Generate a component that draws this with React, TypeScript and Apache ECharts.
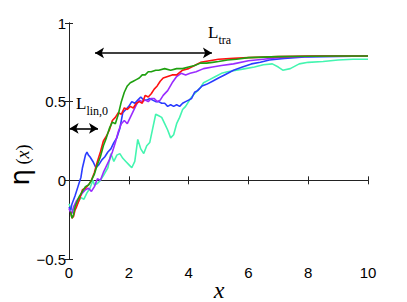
import React, { useEffect, useRef } from "react";
import * as echarts from "echarts";

// x ticks / y ticks
const xTicks = [0, 2, 4, 6, 8, 10];
const yTicks = [-0.5, 0, 0.5, 1];

// series: [x, eta(x)] pairs
const greenData: number[][] = [
  [0.05, -0.2], [0.1, -0.24], [0.15, -0.22], [0.2, -0.17], [0.3, -0.12], [0.35, -0.1], [0.45, -0.07],
  [0.55, -0.04], [0.65, -0.03], [0.75, 0.0], [0.85, 0.04], [0.95, 0.1], [1.05, 0.15], [1.15, 0.22],
  [1.25, 0.27], [1.35, 0.33], [1.45, 0.37], [1.55, 0.36], [1.65, 0.42], [1.75, 0.5], [1.85, 0.56],
  [1.95, 0.6], [2.05, 0.62], [2.15, 0.63], [2.25, 0.64], [2.35, 0.65], [2.45, 0.67], [2.55, 0.67],
  [2.65, 0.69], [2.75, 0.69], [2.9, 0.7], [3.0, 0.7], [3.2, 0.71], [3.4, 0.7], [3.6, 0.71], [3.8, 0.71],
  [4.0, 0.72], [4.2, 0.73], [4.4, 0.745], [4.6, 0.745], [4.8, 0.75], [5.0, 0.755], [5.3, 0.765],
  [5.6, 0.77], [6.0, 0.78], [6.5, 0.783], [7, 0.786], [8, 0.789], [9, 0.79], [10, 0.79],
];
const redData: number[][] = [
  [0.05, -0.2], [0.1, -0.24], [0.15, -0.23], [0.2, -0.19], [0.25, -0.17], [0.35, -0.12], [0.45, -0.06],
  [0.55, -0.05], [0.65, -0.03], [0.75, 0.0], [0.85, 0.05], [0.95, 0.12], [1.05, 0.18], [1.15, 0.25],
  [1.25, 0.28], [1.35, 0.32], [1.45, 0.38], [1.55, 0.4], [1.65, 0.43], [1.75, 0.42], [1.85, 0.46],
  [1.95, 0.45], [2.05, 0.47], [2.15, 0.46], [2.25, 0.49], [2.35, 0.5], [2.45, 0.49], [2.55, 0.54],
  [2.65, 0.53], [2.75, 0.55], [2.85, 0.58], [2.95, 0.6], [3.05, 0.63], [3.15, 0.65], [3.3, 0.66],
  [3.45, 0.67], [3.6, 0.67], [3.8, 0.7], [4.0, 0.71], [4.2, 0.73], [4.4, 0.75], [4.7, 0.76],
  [5.0, 0.77], [5.5, 0.775], [6.0, 0.78], [7, 0.786], [8, 0.79], [10, 0.79],
];
const purpleData: number[][] = [
  [0.0, -0.18], [0.05, -0.2], [0.1, -0.21], [0.15, -0.17], [0.25, -0.13], [0.35, -0.11], [0.45, -0.08],
  [0.55, -0.06], [0.65, -0.05], [0.75, -0.07], [0.85, -0.04], [0.95, 0.01], [1.05, 0.0], [1.15, 0.05],
  [1.25, 0.09], [1.35, 0.13], [1.45, 0.18], [1.55, 0.24], [1.65, 0.31], [1.75, 0.36], [1.85, 0.38],
  [1.95, 0.36], [2.05, 0.4], [2.15, 0.44], [2.25, 0.48], [2.35, 0.51], [2.45, 0.5], [2.55, 0.51],
  [2.65, 0.5], [2.75, 0.52], [2.85, 0.52], [2.95, 0.5], [3.05, 0.51], [3.15, 0.54], [3.3, 0.57],
  [3.45, 0.62], [3.6, 0.66], [3.75, 0.68], [3.9, 0.67], [4.05, 0.68], [4.25, 0.69], [4.5, 0.71],
  [4.8, 0.72], [5.1, 0.73], [5.5, 0.74], [6.0, 0.76], [6.5, 0.77], [7.0, 0.78], [7.5, 0.785],
  [8.5, 0.79], [10, 0.79],
];
const blueData: number[][] = [
  [0.0, -0.17], [0.05, -0.19], [0.1, -0.15], [0.2, -0.1], [0.3, -0.04], [0.4, 0.02], [0.45, 0.08],
  [0.5, 0.12], [0.55, 0.16], [0.6, 0.18], [0.65, 0.16], [0.7, 0.15], [0.8, 0.12], [0.9, 0.08], [1.0, 0.1],
  [1.1, 0.13], [1.2, 0.15], [1.3, 0.18], [1.4, 0.2], [1.5, 0.24], [1.6, 0.27], [1.7, 0.33],
  [1.8, 0.43], [1.9, 0.45], [2.0, 0.47], [2.1, 0.5], [2.2, 0.49], [2.3, 0.51], [2.4, 0.53],
  [2.5, 0.51], [2.6, 0.51], [2.7, 0.52], [2.8, 0.51], [2.9, 0.5], [3.0, 0.5], [3.1, 0.49],
  [3.2, 0.49], [3.3, 0.47], [3.4, 0.48], [3.5, 0.47], [3.6, 0.48], [3.7, 0.47], [3.8, 0.49],
  [3.9, 0.5], [4.0, 0.51], [4.1, 0.52], [4.2, 0.56], [4.3, 0.57], [4.45, 0.6], [4.6, 0.61],
  [4.8, 0.63], [5.0, 0.65], [5.2, 0.67], [5.5, 0.7], [5.8, 0.72], [6.1, 0.74], [6.4, 0.75],
  [6.7, 0.765], [7.2, 0.775], [8, 0.785], [10, 0.79],
];
const cyanData: number[][] = [
  [0.0, -0.15], [0.05, -0.17], [0.1, -0.19], [0.2, -0.18], [0.3, -0.14], [0.4, -0.11], [0.5, -0.12],
  [0.6, -0.08], [0.7, -0.05], [0.8, 0.0], [0.85, -0.03], [0.95, -0.02], [1.05, 0.0], [1.15, 0.03],
  [1.3, 0.08], [1.4, 0.17], [1.5, 0.12], [1.6, 0.16], [1.7, 0.17], [1.8, 0.14], [1.9, 0.12],
  [2.0, 0.1], [2.1, 0.08], [2.2, 0.12], [2.3, 0.26], [2.4, 0.2], [2.5, 0.17], [2.6, 0.22],
  [2.7, 0.24], [2.8, 0.33], [2.9, 0.42], [3.0, 0.41], [3.1, 0.4], [3.2, 0.36], [3.3, 0.32],
  [3.4, 0.27], [3.5, 0.29], [3.6, 0.36], [3.7, 0.4], [3.8, 0.45], [3.9, 0.47], [4.0, 0.5],
  [4.1, 0.53], [4.2, 0.55], [4.3, 0.57], [4.4, 0.59], [4.5, 0.62], [4.7, 0.64], [4.9, 0.66],
  [5.1, 0.68], [5.3, 0.69], [5.6, 0.7], [5.9, 0.71], [6.2, 0.72], [6.5, 0.735], [6.8, 0.74],
  [7.0, 0.72], [7.15, 0.7], [7.4, 0.71], [7.7, 0.74], [8.0, 0.75], [8.5, 0.755], [9.0, 0.765],
  [9.5, 0.77], [10, 0.77],
];

// annotation arrows (data coordinates)
const lTraArrow = [[0.87, 0.81], [4.78, 0.81]];
const lLinArrow = [[0.02, 0.33], [0.97, 0.33]];

const seriesList = [
  { name: "cyan", color: "#44f5b0", data: cyanData },
  { name: "blue", color: "#2a3cff", data: blueData },
  { name: "purple", color: "#9a2cff", data: purpleData },
  { name: "red", color: "#ff1010", data: redData },
  { name: "green", color: "#1fa010", data: greenData },
];

export default function App() {
  const ref = useRef<HTMLDivElement>(null);
  useEffect(() => {
    if (!ref.current) return;
    const chart = echarts.init(ref.current, null, { renderer: "svg" });
    const axisLine = { show: true, lineStyle: { color: "#222", width: 1 } };
    const tick = { show: true, inside: true, length: 4, lineStyle: { color: "#222" } };
    const labelFont = { fontFamily: "Liberation Sans", fontSize: 15, color: "#000" };
    const arrow = (pts: number[][]) => ({
      silent: true,
      symbol: ["arrow", "arrow"],
      symbolSize: [8, 9],
      label: { show: false },
      lineStyle: { color: "#000", width: 1.6, type: "solid" },
      itemStyle: { color: "#000" },
      data: [[{ coord: pts[0] }, { coord: pts[1] }]],
    });
    chart.setOption({
      animation: false,
      backgroundColor: "#fff",
      grid: { left: 69, right: 39, top: 23, bottom: 43 },
      xAxis: [
        {
          type: "value", min: xTicks[0], max: xTicks[xTicks.length - 1], interval: 2,
          axisLine, axisTick: tick, splitLine: { show: false },
          axisLabel: { ...labelFont, margin: 6 },
        },
        {
          type: "value", position: "top", min: 0, max: 10, interval: 2,
          axisLine, axisTick: tick, splitLine: { show: false }, axisLabel: { show: false },
        },
      ],
      yAxis: [
        {
          type: "value", min: yTicks[0], max: yTicks[yTicks.length - 1], interval: 0.5,
          axisLine, axisTick: tick, splitLine: { show: false },
          axisLabel: {
            ...labelFont, margin: 3,
            formatter: (v: number) => (v < 0 ? "\u2212" + String(-v) : String(v)),
          },
        },
        {
          type: "value", position: "right", min: -0.5, max: 1, interval: 0.5,
          axisLine, axisTick: tick, splitLine: { show: false }, axisLabel: { show: false },
        },
      ],
      series: [
        ...seriesList.map((s) => ({
          type: "line", name: s.name, data: s.data, showSymbol: false, symbol: "none",
          lineStyle: { color: s.color, width: 1.6 }, itemStyle: { color: s.color },
          silent: true,
        })),
        {
          type: "line", data: [], markLine: arrow(lTraArrow),
        },
        {
          type: "line", data: [], markLine: arrow(lLinArrow),
        },
      ],
      graphic: [
        {
          type: "text", left: 208, top: 24,
          style: {
            text: "{L|L}{s|tra}",
            rich: {
              L: { fontFamily: "Liberation Serif", fontSize: 17, fill: "#000", verticalAlign: "bottom" },
              s: { fontFamily: "Liberation Serif", fontSize: 12, fill: "#000", verticalAlign: "bottom", padding: [0, 0, -5, 0] },
            },
          },
        },
        {
          type: "text", left: 76, top: 95,
          style: {
            text: "{L|L}{s|lin,0}",
            rich: {
              L: { fontFamily: "Liberation Serif", fontSize: 17, fill: "#000", verticalAlign: "bottom" },
              s: { fontFamily: "Liberation Serif", fontSize: 12, fill: "#000", verticalAlign: "bottom", padding: [0, 0, -5, 0] },
            },
          },
        },
        {
          type: "text", x: 219, y: 290,
          style: {
            text: "x", fontFamily: "Liberation Serif", fontStyle: "italic", fontSize: 24,
            fill: "#000", align: "center", verticalAlign: "middle",
          },
        },
      ],
    });
    return () => chart.dispose();
  }, []);
  return (
    <div style={{ position: "fixed", left: 0, top: 0, width: 407, height: 302, background: "#fff" }}>
      <div ref={ref} style={{ position: "absolute", left: 0, top: 0, width: 407, height: 302 }} />
      <div
        style={{
          position: "absolute", left: 22, top: 165, transform: "translate(-50%, -50%) rotate(-90deg)",
          whiteSpace: "nowrap", color: "#000", lineHeight: "28px",
        }}
      >
        <span style={{ fontFamily: "DejaVu Sans", fontSize: 26 }}>η</span>
        <span style={{ fontFamily: "Liberation Serif", fontSize: 18 }}>
          {" ("}<i>x</i>{")"}
        </span>
      </div>
    </div>
  );
}
